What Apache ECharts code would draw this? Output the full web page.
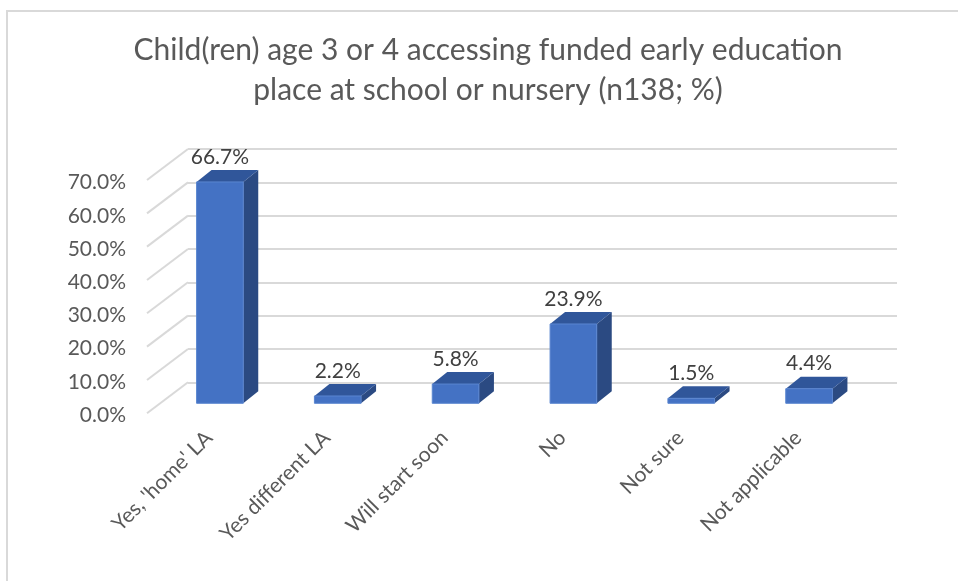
<!DOCTYPE html>
<html><head><meta charset="utf-8">
<script src="https://cdn.jsdelivr.net/npm/echarts@6/dist/echarts.min.js"></script>
<style>html,body{margin:0;padding:0;background:#fff}#c{width:958px;height:581px}</style>
</head><body><div id="c"></div>
<script>
const categories = ["Yes, 'home' LA", "Yes different LA", "Will start soon", "No", "Not sure", "Not applicable"];
const values = [66.7, 2.2, 5.8, 23.9, 1.5, 4.4];
const tickValues = [0, 10, 20, 30, 40, 50, 60, 70];
const titleLines = ["Child(ren) age 3 or 4 accessing funded early education", "place at school or nursery (n138; %)"];

const FONT = 'Lato, "Open Sans", sans-serif';
const chart = echarts.init(document.getElementById('c'), null, {renderer: 'canvas'});

const option = {
  animation: false,
  backgroundColor: '#ffffff',
  title: {
    text: titleLines.join('\n'),
    left: 488, top: 30, textAlign: 'center', padding: 0,
    textStyle: {fontFamily: FONT, fontWeight: 400, fontSize: 30, color: '#595959', lineHeight: 40}
  },
  graphic: [{
    type: 'rect', silent: true, z: -1,
    shape: {x: 7, y: 11, width: 1000, height: 700},
    style: {fill: 'none', stroke: '#d9d9d9', lineWidth: 2}
  }],
  grid: [
    {left: 188, right: 61, top: 149, bottom: 198.7},
    {left: 161, right: 90, top: 171, bottom: 177.7},
    {left: 147, right: 90, top: 182.7, bottom: 166},
    {left: 150, right: 101, top: 171, bottom: 177.7}
  ],
  xAxis: [
    {type: 'category', gridIndex: 0, data: categories, show: false},
    {type: 'category', gridIndex: 1, data: categories, show: false},
    {type: 'category', gridIndex: 2, data: categories, show: false},
    {type: 'category', gridIndex: 3, data: categories,
      axisLine: {show: false}, axisTick: {show: false},
      axisLabel: {rotate: 45, margin: 31, interval: 0, fontFamily: FONT, fontSize: 21, color: '#595959'}}
  ],
  yAxis: [
    {type: 'value', gridIndex: 0, min: 0, max: 70, interval: 10,
      axisLine: {show: false}, axisTick: {show: false}, axisLabel: {show: false},
      splitLine: {lineStyle: {color: '#d9d9d9', width: 2}}},
    {type: 'value', gridIndex: 1, min: 0, max: 70, interval: 10, show: false, splitLine: {show: false}},
    {type: 'value', gridIndex: 2, min: 0, max: 70, interval: 10,
      axisLine: {show: false}, axisTick: {show: false}, splitLine: {show: false},
      axisLabel: {margin: 21, fontFamily: FONT, fontSize: 21, color: '#595959',
        formatter: v => v.toFixed(1) + '%'}},
    {type: 'value', gridIndex: 3, min: 0, max: 70, interval: 10, show: false, splitLine: {show: false}}
  ],
  series: [
    {
      type: 'custom', xAxisIndex: 0, yAxisIndex: 0, clip: false, silent: true,
      data: tickValues.map(v => [0, v]),
      renderItem: function (params, api) {
        const p = api.coord([0, api.value(1)]);
        const band = api.size([1, 0])[0];
        const x0 = p[0] - band / 2;
        return {type: 'line', shape: {x1: x0, y1: p[1], x2: x0 - 41, y2: p[1] + 31},
          style: {stroke: '#d9d9d9', lineWidth: 2}};
      }
    },
    {
      type: 'custom', xAxisIndex: 1, yAxisIndex: 1, clip: false, silent: true,
      data: values.map((v, i) => [i, v]),
      renderItem: function (params, api) {
        const idx = api.value(0), v = api.value(1);
        const base = api.coord([idx, 0]);
        const top = api.coord([idx, v]);
        const w = api.size([1, 0])[0] * 0.396;
        const xl = base[0] - w / 2, xr = base[0] + w / 2;
        const dx = 15, dy = -12;
        return {type: 'group', children: [
          {type: 'polygon', shape: {points: [[xr, top[1]], [xr + dx, top[1] + dy], [xr + dx, base[1] + dy], [xr, base[1]]]},
            style: {fill: '#2b4a82'}},
          {type: 'polygon', shape: {points: [[xl, top[1]], [xl + dx, top[1] + dy], [xr + dx, top[1] + dy], [xr, top[1]]]},
            style: {fill: '#30569a'}},
          {type: 'rect', shape: {x: xl, y: top[1], width: w, height: base[1] - top[1]},
            style: {fill: '#4472c4', stroke: '#5a86d0', lineWidth: 1}},
          {type: 'text', style: {text: v.toFixed(1) + '%', x: base[0], y: top[1] - 25,
            align: 'center', verticalAlign: 'middle', font: '21px ' + FONT, fill: '#404040'}}
        ]};
      }
    }
  ]
};
chart.setOption(option);
</script>
</body></html>
